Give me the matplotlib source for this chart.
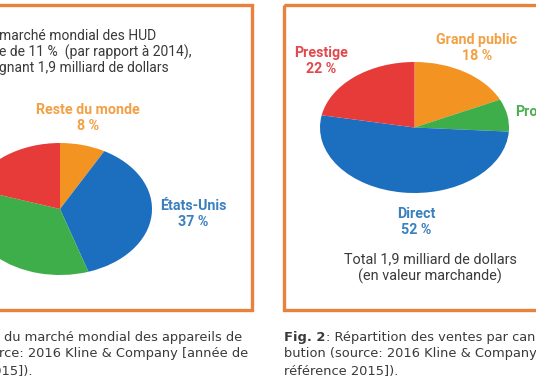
"""
Two pie charts from a HUD market report page (cropped view).
Fig. 1: world HUD market by region, Fig. 2: sales by distribution channel.
"""

import matplotlib.pyplot as plt
from matplotlib.patches import Rectangle

# ── Data ───────────────────────────────────────────────────────────────────────

region_labels = ["Reste du monde", "États-Unis", "Europe", "Asie"]
region_values = [8, 37, 35, 20]
region_colors = ["#F39322", "#1C6FBE", "#3DAE49", "#E63B38"]

channel_labels = ["Grand public", "Professionnel", "Direct", "Prestige"]
channel_values = [18, 8, 52, 22]
channel_colors = ["#F39322", "#3DAE49", "#1C6FBE", "#E63B38"]

W, H = 536, 386
BORDER = "#E8813C"
TEXT = "#3A3A3A"
FONT = "Roboto"
CAP_FONT = "DejaVu Sans"
LBL_SIZE = 10.3
CAP_SIZE = 9.4


def px_axes(fig, x0, y0, x1, y1):
    """Axes placed by pixel box (top-left origin)."""
    return fig.add_axes([x0 / W, (H - y1) / H, (x1 - x0) / W, (y1 - y0) / H])


def draw_pie(fig, box, values, colors):
    ax = px_axes(fig, *box)
    ax.pie(values, colors=colors, startangle=90, counterclock=False,
           radius=1.0, wedgeprops=dict(linewidth=0))
    ax.set_aspect("auto")
    ax.set_xlim(-1, 1)
    ax.set_ylim(-1, 1)
    ax.axis("off")
    return ax


def label(ax, x, y, s, color):
    ax.text(x, y, s, ha="center", va="center", fontsize=LBL_SIZE,
            fontweight="bold", color=color, family=FONT, linespacing=1.25)


fig = plt.figure(figsize=(W / 100, H / 100), dpi=100)
fig.patch.set_facecolor("white")

# overlay in pixel coordinates for frames and text
ov = fig.add_axes([0, 0, 1, 1])
ov.set_xlim(0, W)
ov.set_ylim(H, 0)
ov.axis("off")

ov.add_patch(Rectangle((-20, 5), 272, 305, fill=False, ec=BORDER, lw=2.4))
ov.add_patch(Rectangle((284, 5), 280, 305, fill=False, ec=BORDER, lw=2.4))

# ── Fig. 1 box ─────────────────────────────────────────────────────────────────
ov.text(-1, 52, "marché mondial des HUD\n"
                "e de 11 %  (par rapport à 2014),\n"
                "gnant 1,9 milliard de dollars",
        ha="left", va="center", fontsize=10, color=TEXT, family=FONT,
        linespacing=1.15)

label(ov, 88, 118, f"{region_labels[0]}\n{region_values[0]} %", "#F2A043")
label(ov, 193, 214, f"{region_labels[1]}\n{region_values[1]} %", "#3A80BE")

draw_pie(fig, (60 - 92, 143, 60 + 92, 275), region_values, region_colors)

# ── Fig. 2 box ─────────────────────────────────────────────────────────────────
label(ov, 321, 61, f"{channel_labels[3]}\n{channel_values[3]} %", "#E04A4E")
label(ov, 477, 48, f"{channel_labels[0]}\n{channel_values[0]} %", "#F2A043")
ov.text(515, 112, channel_labels[1], ha="left", va="center",
        fontsize=LBL_SIZE, fontweight="bold", color="#4CAF50", family=FONT)
label(ov, 416, 222, f"{channel_labels[2]}\n{channel_values[2]} %", "#3A80BE")
ov.text(430, 268, "Total 1,9 milliard de dollars\n(en valeur marchande)",
        ha="center", va="center", fontsize=10.4, color=TEXT, family=FONT,
        linespacing=1.22)

draw_pie(fig, (320, 62, 509, 193), channel_values, channel_colors)

# ── Captions ───────────────────────────────────────────────────────────────────
ov.text(4, 337, "du marché mondial des appareils de", ha="left", va="center",
        fontsize=CAP_SIZE, color=TEXT, family=CAP_FONT)
ov.text(-1, 354, "rce: 2016 Kline & Company [année de", ha="left", va="center",
        fontsize=CAP_SIZE, color=TEXT, family=CAP_FONT)
ov.text(33, 371, "2015]).", ha="right", va="center", fontsize=CAP_SIZE,
        color=TEXT, family=CAP_FONT)

ov.text(284, 337, "Fig. 2", ha="left", va="center", fontsize=CAP_SIZE,
        fontweight="bold", color=TEXT, family=CAP_FONT)
ov.text(326, 337, ": Répartition des ventes par canal", ha="left", va="center",
        fontsize=CAP_SIZE, color=TEXT, family=CAP_FONT)
ov.text(284, 354, "bution (source: 2016 Kline & Company", ha="left", va="center",
        fontsize=CAP_SIZE, color=TEXT, family=CAP_FONT)
ov.text(284, 371, "référence 2015]).", ha="left", va="center",
        fontsize=CAP_SIZE, color=TEXT, family=CAP_FONT)

fig.savefig("out.png", dpi=100)
